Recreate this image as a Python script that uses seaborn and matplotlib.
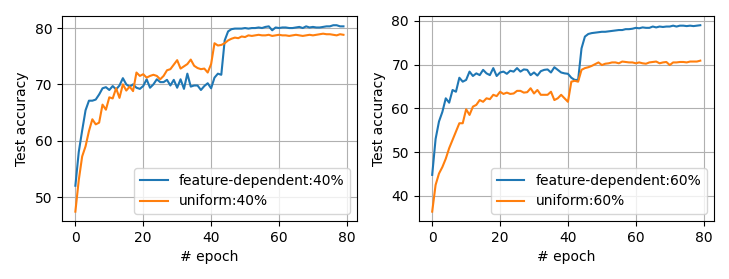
import matplotlib
matplotlib.use("Agg")
import matplotlib.pyplot as plt
import numpy as np
import seaborn as sns

epochs = np.arange(80)

fd40 = [52.0, 58.0, 61.8, 65.4, 67.1, 67.1, 67.3, 68.2, 69.3, 69.5,
        69.0, 69.7, 69.1, 69.8, 71.1, 70.0, 69.6, 70.0, 69.4, 69.2,
        69.7, 70.9, 69.4, 70.0, 70.9, 70.4, 70.4, 70.8, 69.8, 70.8,
        69.4, 70.9, 69.2, 71.9, 69.6, 69.8, 69.8, 69.0, 69.7, 70.2,
        69.3, 71.2, 71.9, 71.7, 77.8, 79.4, 79.8, 79.9, 79.9, 79.9,
        80.0, 79.9, 80.0, 80.0, 80.1, 80.0, 80.2, 80.3, 79.6, 80.1,
        80.0, 80.1, 80.1, 80.0, 80.0, 80.1, 80.2, 80.0, 80.3, 80.1,
        80.2, 80.1, 80.1, 80.2, 80.3, 80.3, 80.5, 80.5, 80.3, 80.3]
uni40 = [47.4, 53.0, 57.2, 59.0, 61.7, 63.8, 62.9, 63.2, 66.4, 65.5,
         67.7, 67.5, 69.3, 67.6, 70.0, 68.9, 69.6, 68.8, 72.1, 71.5,
         71.8, 71.2, 71.5, 71.7, 71.5, 70.9, 71.5, 72.5, 72.7, 73.5,
         74.3, 72.8, 73.2, 73.6, 74.4, 73.3, 72.9, 72.7, 72.8, 72.1,
         73.6, 77.3, 76.9, 77.0, 77.3, 77.8, 78.1, 78.3, 78.2, 78.5,
         78.4, 78.7, 78.6, 78.7, 78.8, 78.7, 78.7, 78.8, 78.6, 78.7,
         78.8, 78.7, 78.7, 78.6, 78.7, 78.8, 78.7, 78.6, 78.7, 78.8,
         78.7, 78.8, 78.9, 79.0, 78.9, 78.9, 78.8, 78.7, 78.9, 78.8]
fd60 = [44.8, 53.0, 57.0, 59.2, 62.3, 61.3, 64.2, 63.8, 67.0, 66.1,
        66.5, 68.4, 67.4, 68.0, 67.6, 68.8, 68.0, 67.6, 69.2, 67.4,
        68.2, 68.4, 67.9, 68.6, 68.4, 69.2, 68.4, 68.9, 68.8, 67.6,
        68.2, 67.5, 68.5, 68.8, 68.9, 68.2, 69.4, 68.8, 68.2, 68.0,
        67.9, 67.0, 66.5, 66.5, 73.7, 76.4, 77.0, 77.2, 77.3, 77.4,
        77.5, 77.5, 77.6, 77.7, 77.8, 77.9, 77.9, 78.1, 78.1, 78.2,
        78.4, 78.3, 78.5, 78.4, 78.4, 78.7, 78.5, 78.7, 78.6, 78.7,
        78.7, 78.9, 78.7, 78.9, 78.9, 78.8, 78.9, 78.8, 78.9, 79.0]
uni60 = [36.4, 42.5, 45.1, 46.6, 48.5, 50.9, 52.8, 54.7, 56.6, 56.6,
         59.8, 58.5, 60.4, 60.8, 61.9, 61.5, 62.3, 62.1, 63.1, 62.8,
         63.8, 63.3, 63.6, 63.3, 63.4, 64.0, 64.0, 63.6, 63.7, 64.6,
         63.4, 64.2, 63.1, 63.1, 63.1, 63.8, 61.9, 62.3, 63.1, 62.3,
         61.5, 66.1, 66.3, 66.1, 68.8, 69.2, 69.4, 69.7, 70.1, 70.5,
         69.9, 70.2, 70.3, 70.5, 70.5, 70.3, 70.7, 70.6, 70.5, 70.5,
         70.3, 70.5, 70.3, 70.2, 70.5, 70.6, 70.7, 70.3, 70.5, 70.6,
         69.9, 70.5, 70.5, 70.6, 70.6, 70.5, 70.7, 70.7, 70.7, 70.9]

panels = [
    (fd40, uni40, "feature-dependent:40%", "uniform:40%"),
    (fd60, uni60, "feature-dependent:60%", "uniform:60%"),
]


def main():
    fig, axes = plt.subplots(1, 2, figsize=(7.29, 2.79), dpi=100)
    fig.subplots_adjust(left=0.085, right=0.979, bottom=0.208, top=0.943, wspace=0.21)

    for ax, (fd, uni, fd_label, uni_label) in zip(axes, panels):
        sns.lineplot(x=epochs, y=fd, ax=ax, color="#1f77b4", label=fd_label)
        sns.lineplot(x=epochs, y=uni, ax=ax, color="#ff7f0e", label=uni_label)
        ax.grid(True)
        ax.set_xlabel("# epoch")
        ax.set_ylabel("Test accuracy")
        ax.set_xticks([0, 20, 40, 60, 80])
        ax.legend(loc="lower right")

    plt.savefig("out.png")


if __name__ == "__main__":
    main()
